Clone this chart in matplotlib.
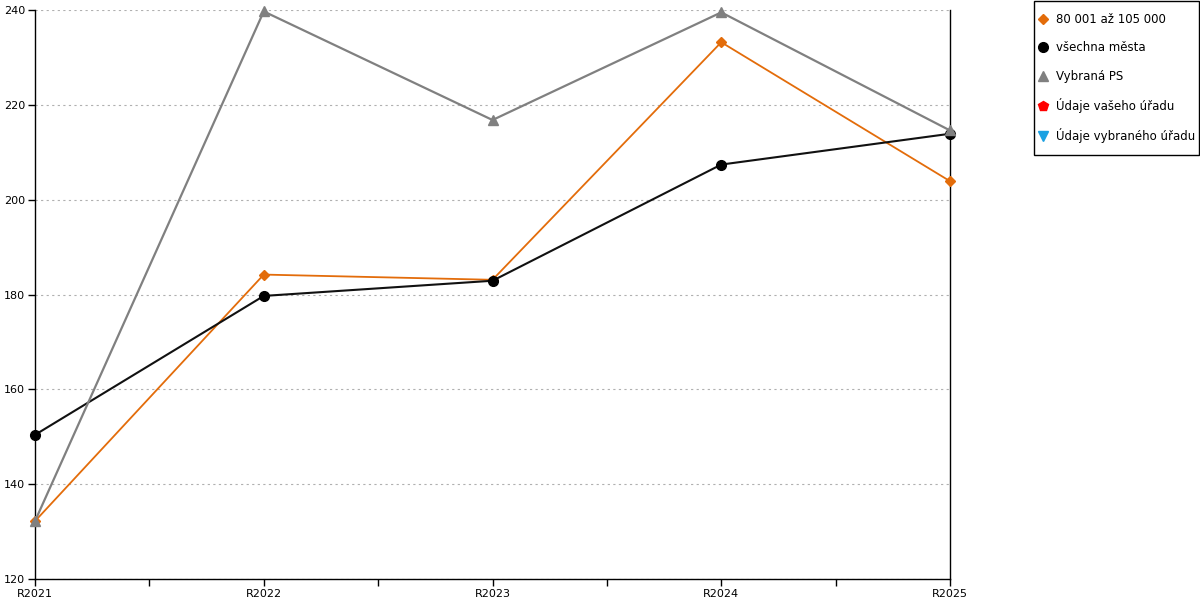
import matplotlib
matplotlib.use("Agg")
import matplotlib.pyplot as plt
from matplotlib.lines import Line2D
from matplotlib.patches import Rectangle
from matplotlib.ticker import MultipleLocator

YEARS = ["R2021", "R2022", "R2023", "R2024", "R2025"]
GROUP_80_105 = [132.2, 184.2, 183.1, 233.2, 203.9]
ALL_CITIES = [150.4, 179.7, 182.9, 207.4, 213.9]
SELECTED_PS = [132.2, 239.7, 216.8, 239.5, 214.6]

LEGEND_LABELS = [
    "80 001 až 105 000",
    "všechna města",
    "Vybraná PS",
    "Údaje vašeho úřadu",
    "Údaje vybraného úřadu",
]

ORANGE = "#e36c0a"
GRAY = "#808080"

plt.rcParams["font.family"] = ["DejaVu Sans"]
plt.rcParams["font.size"] = 8

fig = plt.figure(figsize=(12, 6), dpi=100)
ax = fig.add_axes([35 / 1200, 21 / 600, 915 / 1200, 569 / 600])

x = list(range(len(YEARS)))
ax.plot(x, GROUP_80_105, color=ORANGE, linewidth=1.3, marker="D", markersize=5,
        zorder=3, clip_on=False)
ax.plot(x, ALL_CITIES, color="#111111", linewidth=1.5, marker="o", markersize=7,
        markerfacecolor="black", markeredgecolor="black", zorder=4, clip_on=False)
ax.plot(x, SELECTED_PS, color=GRAY, linewidth=1.6, marker="^", markersize=7,
        zorder=5, clip_on=False)

ax.set_xlim(0, len(YEARS) - 1)
ax.set_ylim(120, 240)
ax.set_xticks(x)
ax.set_xticklabels(YEARS)
ax.xaxis.set_minor_locator(MultipleLocator(0.5))
ax.yaxis.set_major_locator(MultipleLocator(20))
ax.tick_params(axis="both", which="both", direction="out", length=5, width=1, pad=2)
ax.tick_params(axis="x", which="minor", length=5)

ax.grid(axis="y", color="#b0b0b0", linestyle=(0, (2, 3)), linewidth=0.8)
ax.set_axisbelow(True)
ax.spines["top"].set_visible(False)
for side in ("left", "bottom", "right"):
    ax.spines[side].set_color("black")
    ax.spines[side].set_linewidth(1)

handles = [
    Line2D([], [], linestyle="none", marker="D", color=ORANGE, markersize=5),
    Line2D([], [], linestyle="none", marker="o", color="black", markersize=7),
    Line2D([], [], linestyle="none", marker="^", color=GRAY, markersize=7),
    Line2D([], [], linestyle="none", marker="p", color="red", markersize=7),
    Line2D([], [], linestyle="none", marker="v", color="#1ba1e2", markersize=7),
]
fig.patches.append(Rectangle((1034 / 1200, 1 - 155 / 600), 165 / 1200, 154 / 600,
                             transform=fig.transFigure, fill=False,
                             edgecolor="black", linewidth=1))
fig.legend(handles, LEGEND_LABELS, loc="upper left",
           bbox_to_anchor=(1039 / 1200, 1 - 13 / 600), frameon=False,
           fontsize=8.5, handlelength=0.6, handletextpad=0.8,
           labelspacing=1.3, borderpad=0, borderaxespad=0)

fig.savefig("out.png", dpi=100)
